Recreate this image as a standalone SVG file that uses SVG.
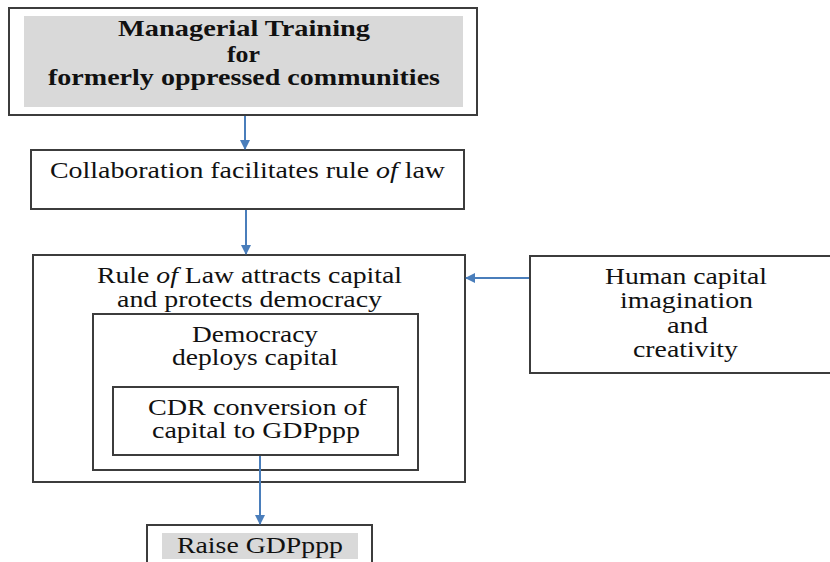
<svg xmlns="http://www.w3.org/2000/svg" width="830" height="562" viewBox="0 0 830 562">
<defs>
<style>
.box{fill:#fff;stroke:#3c3c3c;stroke-width:2}
.gray{fill:#d9d9d9;stroke:none}
text{font-family:'Liberation Serif','DejaVu Serif',serif;font-size:23px;fill:#111}
.b{font-weight:bold}
.conn{stroke:#4a7ebb;stroke-width:2;fill:none;marker-end:url(#ah)}
</style>
<marker id="ah" viewBox="0 0 10 10" refX="9" refY="5" markerWidth="5" markerHeight="5" orient="auto" markerUnits="strokeWidth">
<path d="M0,0 L10,5 L0,10 z" fill="#4a7ebb"/>
</marker>
</defs>
<rect width="830" height="562" fill="#fff"/>
<g id="managerial">
<rect class="box" x="9" y="8" width="468" height="107"/>
<rect class="gray" x="24" y="16" width="439" height="91"/>
<text class="b" x="118" y="36" textLength="252" lengthAdjust="spacingAndGlyphs">Managerial Training</text>
<text class="b" x="227" y="62" textLength="33" lengthAdjust="spacingAndGlyphs">for</text>
<text class="b" x="48" y="85" textLength="392" lengthAdjust="spacingAndGlyphs">formerly oppressed communities</text>
</g>
<g id="collaboration">
<rect class="box" x="31" y="150" width="433" height="59"/>
<text x="50" y="178" textLength="395" lengthAdjust="spacingAndGlyphs">Collaboration facilitates rule <tspan font-style="italic">of</tspan> law</text>
</g>
<g id="ruleoflaw">
<rect class="box" x="33" y="255" width="432" height="227"/>
<text x="97" y="283" textLength="305" lengthAdjust="spacingAndGlyphs">Rule <tspan font-style="italic">of</tspan> Law attracts capital</text>
<text x="117" y="307" textLength="265" lengthAdjust="spacingAndGlyphs">and protects democracy</text>
</g>
<g id="democracy">
<rect class="box" x="93" y="314" width="325" height="156"/>
<text x="192" y="342" textLength="126" lengthAdjust="spacingAndGlyphs">Democracy</text>
<text x="172" y="365" textLength="166" lengthAdjust="spacingAndGlyphs">deploys capital</text>
</g>
<g id="cdr">
<rect class="box" x="113" y="387" width="285" height="68"/>
<text x="148" y="415" textLength="219" lengthAdjust="spacingAndGlyphs">CDR conversion of</text>
<text x="152" y="438" textLength="208" lengthAdjust="spacingAndGlyphs">capital to GDPppp</text>
</g>
<g id="human">
<rect class="box" x="530" y="256" width="310" height="117"/>
<text x="605" y="284" textLength="162" lengthAdjust="spacingAndGlyphs">Human capital</text>
<text x="620" y="308" textLength="133" lengthAdjust="spacingAndGlyphs">imagination</text>
<text x="667" y="333" textLength="41" lengthAdjust="spacingAndGlyphs">and</text>
<text x="633" y="357" textLength="105" lengthAdjust="spacingAndGlyphs">creativity</text>
</g>
<g id="raise">
<rect class="box" x="147" y="525" width="225" height="50"/>
<rect class="gray" x="162" y="533" width="196" height="26"/>
<text x="177" y="553" textLength="166" lengthAdjust="spacingAndGlyphs">Raise GDPppp</text>
</g>
<g id="connectors">
<line class="conn" x1="245" y1="116" x2="245" y2="149"/>
<line class="conn" x1="246" y1="210" x2="246" y2="254"/>
<line class="conn" x1="529" y1="278" x2="466" y2="278"/>
<line class="conn" x1="260" y1="456" x2="260" y2="524"/>
</g>
</svg>
